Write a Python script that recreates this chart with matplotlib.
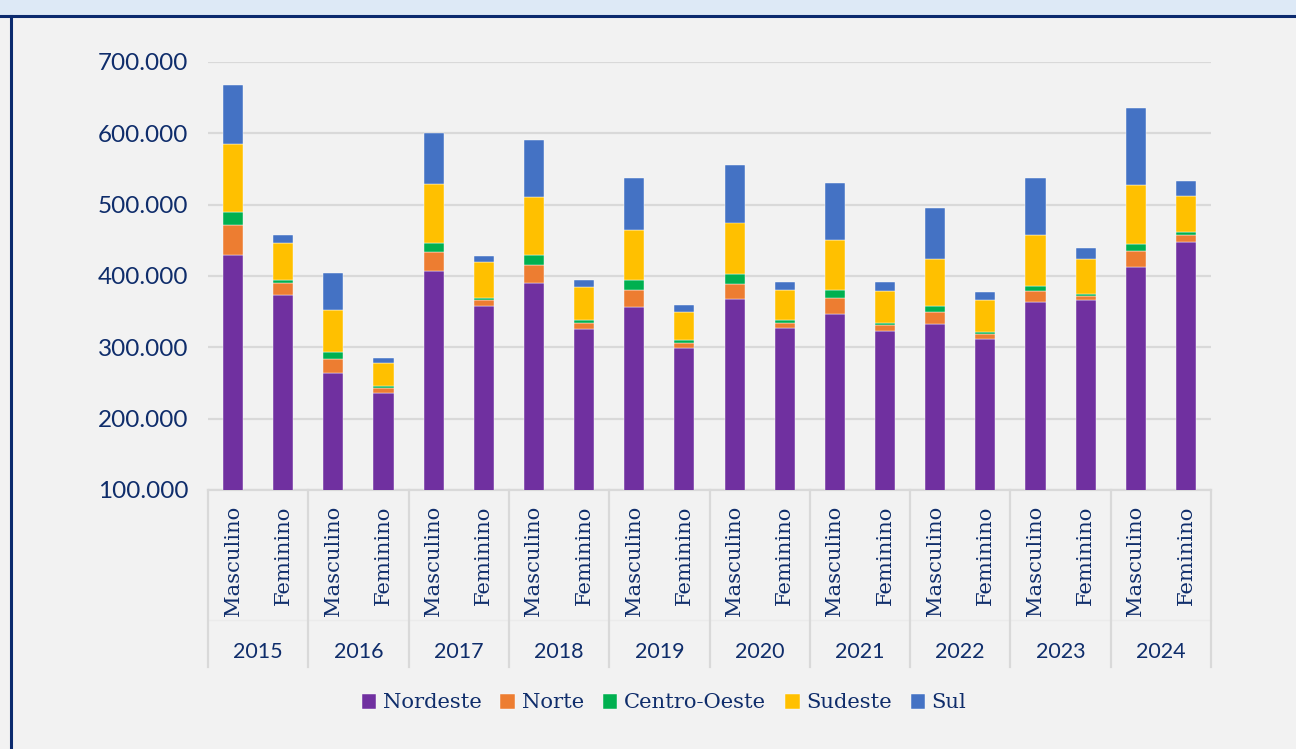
import numpy as np
import matplotlib.pyplot as plt
from matplotlib.lines import Line2D
from matplotlib.patches import Rectangle

years = ['2015', '2016', '2017', '2018', '2019', '2020', '2021', '2022', '2023', '2024']
sexes = ['Masculino', 'Feminino']

# values per bar: (2015 M, 2015 F, 2016 M, 2016 F, ...)
nordeste = [429000, 374000, 264000, 236000, 407000, 358000, 390000, 326000, 357000, 299000,
            368000, 327000, 347000, 323000, 333000, 311000, 363000, 367000, 413000, 448000]
norte = [43000, 16000, 19000, 7000, 26000, 8000, 25000, 8000, 24000, 7000,
         21000, 7000, 22000, 8000, 17000, 8000, 16000, 5600, 22000, 9000]
centro_oeste = [18000, 5000, 11000, 3000, 13000, 3000, 14000, 4000, 13000, 4000,
                14000, 4000, 12000, 3000, 8000, 2500, 7000, 2400, 10000, 4000]
sudeste = [95000, 51000, 59000, 32000, 83000, 50000, 82000, 47000, 70000, 39000,
           72000, 42000, 70000, 45000, 66000, 45000, 72000, 49500, 83000, 51000]
sul = [83000, 12000, 51000, 7000, 72000, 9000, 79000, 10000, 74000, 10000,
       80000, 12000, 80000, 12000, 71000, 11000, 79000, 15000, 107000, 21000]

series = [('Nordeste', nordeste, '#7030a0'),
          ('Norte', norte, '#ed7d31'),
          ('Centro-Oeste', centro_oeste, '#00b050'),
          ('Sudeste', sudeste, '#ffc000'),
          ('Sul', sul, '#4472c4')]

navy = '#0f2d6b'
bg = '#f2f2f2'

fig = plt.figure(figsize=(12.96, 7.49), dpi=100, facecolor=bg)

# header band and frame lines
fig.add_artist(Rectangle((0, 1 - 15 / 749), 1, 15 / 749, transform=fig.transFigure,
                         facecolor='#dde9f6', edgecolor='none', zorder=0))
fig.add_artist(Line2D([0, 1], [1 - 16 / 749, 1 - 16 / 749], transform=fig.transFigure,
                      color='#0b2a6e', lw=2.2))
fig.add_artist(Line2D([11 / 1296, 11 / 1296], [0, 1 - 16 / 749], transform=fig.transFigure,
                      color='#0b2a6e', lw=2.2))

ax = fig.add_axes([208 / 1296, 1 - 490 / 749, 1003 / 1296, 428 / 749])
ax.set_facecolor(bg)

x = np.arange(len(years) * 2)
bottom = np.zeros(len(x))
for name, vals, col in series:
    vals = np.array(vals, dtype=float)
    ax.bar(x, vals, 0.4, bottom=bottom, color=col, label=name,
           edgecolor='#ffffff', linewidth=0.3, zorder=3)
    bottom += vals

ax.set_ylim(100000, 700000)
ax.set_xlim(-0.5, len(x) - 0.5)
yt = np.arange(100000, 700001, 100000)
ax.set_yticks(yt)
ax.set_yticklabels([f'{v:,}'.replace(',', '.') for v in yt],
                   fontfamily='Lato', fontsize=17.5, color=navy)
ax.tick_params(axis='y', length=0, pad=14)
ax.set_xticks([])
ax.grid(axis='y', color='#d9d9d9', lw=1.6, zorder=0)
for s in ax.spines.values():
    s.set_visible(False)

trans = ax.get_xaxis_transform()
depth = (667 - 490) / 428
ax.plot([-0.5, len(x) - 0.5], [0, 0], transform=trans, color='#d9d9d9', lw=1.6,
        clip_on=False, zorder=2)
ax.plot([-0.5, len(x) - 0.5], [-(620 - 490) / 428] * 2, transform=trans, color='#ebebeb',
        lw=1, clip_on=False, zorder=1)
for b in np.arange(-0.5, len(x), 2):
    ax.plot([b, b], [0, -depth], transform=trans, color='#d9d9d9', lw=1.6, clip_on=False)

for i, xi in enumerate(x):
    ax.text(xi, -(506 - 490) / 428, sexes[i % 2], transform=trans, rotation=90,
            ha='center', va='top', fontfamily='DejaVu Serif', fontsize=15.2, color=navy)
for j, yr in enumerate(years):
    ax.text(2 * j + 0.5, -(652 - 490) / 428, yr, transform=trans, ha='center', va='center',
            fontfamily='Lato', fontsize=15.5, color=navy)

leg = fig.legend(loc='center', bbox_to_anchor=(664 / 1296, 1 - 703 / 749), ncol=5,
                 frameon=False, handlelength=0.7, handleheight=0.7, handletextpad=0.3,
                 columnspacing=0.9, prop={'family': 'DejaVu Serif', 'size': 15.2})
for t in leg.get_texts():
    t.set_color(navy)

fig.savefig('out.png', dpi=100, facecolor=bg)
